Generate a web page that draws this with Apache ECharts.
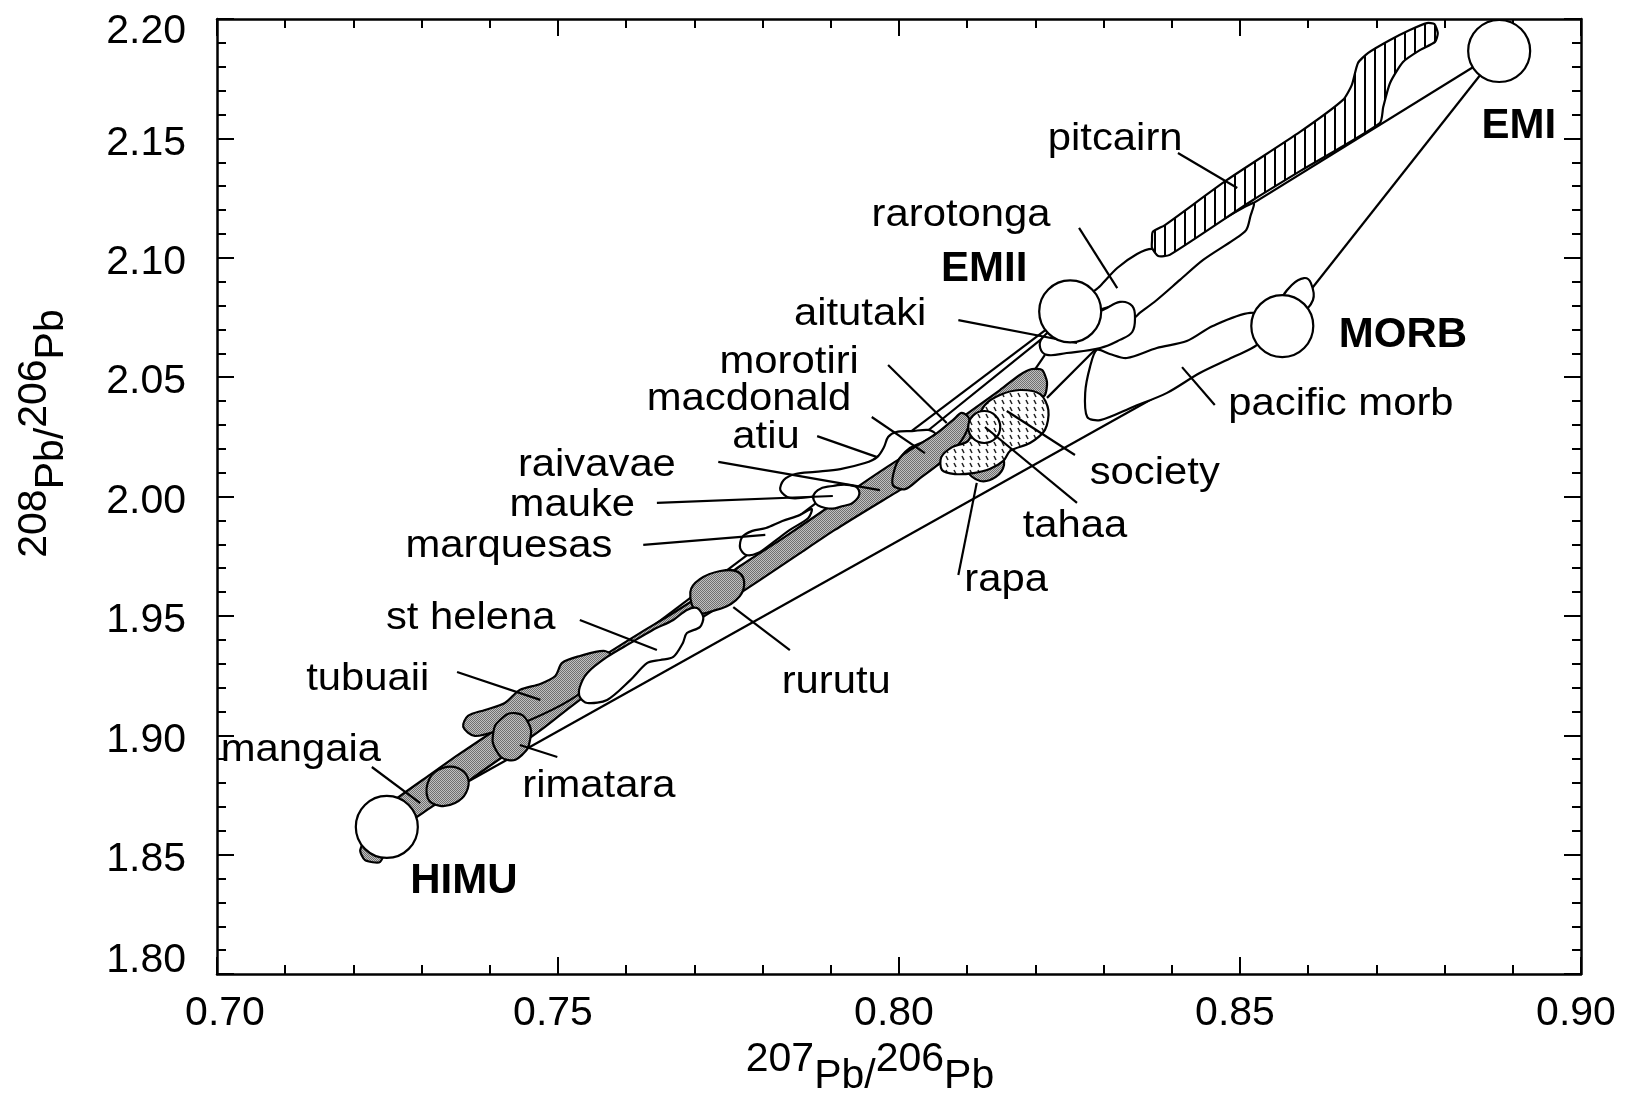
<!DOCTYPE html>
<html><head><meta charset="utf-8">
<script src="https://cdn.jsdelivr.net/npm/echarts@6/dist/echarts.min.js"></script>
<style>html,body{margin:0;padding:0;background:#fff}#c{width:1644px;height:1094px}</style>
</head><body><div id="c"></div>
<script>
// ---------- data (207Pb/206Pb , 208Pb/206Pb) ----------
const endmemberNames = ['HIMU', 'EMII', 'MORB', 'EMI'];
const endmemberPts = [[0.7249, 1.8616], [0.8251, 2.0775], [0.8562, 2.0714], [0.8880, 2.1866]];

// straight envelope / outline segments [x1, y1, x2, y2]
const envelopeLines = [
  [0.7249, 1.8616, 0.8562, 2.0714],   // HIMU - MORB
  [0.7249, 1.8616, 0.8251, 2.0775],   // HIMU - EMII
  [0.8880, 2.1866, 0.8562, 2.0714],   // EMI - MORB
  [0.8880, 2.1866, 0.8397, 2.1012],   // EMI - pitcairn
  [0.8038, 2.0266, 0.8211, 2.0664],
  [0.8290, 2.0622, 0.8217, 2.0413],
  [0.8214, 2.0593, 0.8199, 2.0530]
];

const bandPts = [[0.7261,1.8729],[0.7312,1.8834],[0.7349,1.8909],[0.7386,1.8980],[0.7430,1.9064],[0.7481,1.9160],[0.7532,1.9265],[0.7576,1.9349],[0.7620,1.9428],[0.7669,1.9512],[0.7716,1.9600],[0.7767,1.9709],[0.7826,1.9818],[0.7884,1.9931],[0.7943,2.0048],[0.7994,2.0145],[0.8046,2.0237],[0.8097,2.0341],[0.8148,2.0446],[0.8177,2.0509],[0.8195,2.0534],[0.8210,2.0530],[0.8217,2.0480],
  [0.8214,2.0425],[0.8192,2.0387],[0.8148,2.0308],[0.8104,2.0224],[0.8060,2.0140],[0.8009,2.0040],[0.7958,1.9952],[0.7906,1.9860],[0.7855,1.9763],[0.7796,1.9650],[0.7738,1.9541],[0.7694,1.9462],[0.7650,1.9378],[0.7606,1.9294],[0.7562,1.9210],[0.7518,1.9118],[0.7481,1.9035],[0.7444,1.8959],[0.7408,1.8888],[0.7371,1.8813],[0.7342,1.8750],[0.7312,1.8695],[0.7283,1.8637],[0.7261,1.8595],[0.7239,1.8469],[0.7217,1.8477],[0.7210,1.8519],[0.7232,1.8645]];
const mangaiaPts = [[0.7312,1.8821],[0.7331,1.8863],[0.7353,1.8863],[0.7368,1.8821],[0.7365,1.8758],[0.7349,1.8716],[0.7327,1.8704],[0.7309,1.8737]];
const tubuaiiPts = [[0.7361,1.9035],[0.7368,1.9081],[0.7393,1.9106],[0.7422,1.9135],[0.7444,1.9190],[0.7474,1.9215],[0.7496,1.9248],[0.7506,1.9303],[0.7532,1.9332],[0.7569,1.9353],[0.7584,1.9315],[0.7562,1.9244],[0.7518,1.9148],[0.7459,1.9064],[0.7415,1.9022],[0.7378,1.8997]];
const rimataraPts = [[0.7415,1.9064],[0.7437,1.9093],[0.7456,1.9055],[0.7459,1.8980],[0.7447,1.8917],[0.7427,1.8896],[0.7409,1.8938],[0.7405,1.9009]];
const rurutuPts = [[0.7694,1.9600],[0.7708,1.9654],[0.7738,1.9688],[0.7764,1.9684],[0.7773,1.9629],[0.7761,1.9566],[0.7732,1.9525],[0.7704,1.9516]];
const macdonaldPts = [[0.7991,2.0048],[0.7994,2.0119],[0.8004,2.0170],[0.8026,2.0212],[0.8054,2.0262],[0.8079,2.0320],[0.8092,2.0350],[0.8103,2.0325],[0.8098,2.0266],[0.8082,2.0199],[0.8060,2.0140],[0.8031,2.0077],[0.8009,2.0031]];
const rapaPts = [[0.8101,2.0111],[0.8123,2.0153],[0.8148,2.0170],[0.8154,2.0132],[0.8142,2.0082],[0.8119,2.0065]];
const societyPts = [[0.8063,2.0111],[0.8062,2.0165],[0.8078,2.0207],[0.8101,2.0232],[0.8111,2.0299],[0.8126,2.0383],[0.8148,2.0425],[0.8177,2.0446],[0.8207,2.0429],[0.8219,2.0362],[0.8214,2.0279],[0.8192,2.0224],[0.8163,2.0191],[0.8153,2.0149],[0.8133,2.0115],[0.8109,2.0098],[0.8082,2.0094]];
const tahaaCenter = [[0.8125, 2.0291]];
const stHelenaPts = [[0.7532,1.9160],[0.7543,1.9135],[0.7572,1.9148],[0.7606,1.9231],[0.7631,1.9303],[0.7650,1.9315],[0.7669,1.9328],[0.7683,1.9386],[0.7689,1.9428],[0.7708,1.9453],[0.7713,1.9495],[0.7704,1.9533],[0.7689,1.9525],[0.7669,1.9483],[0.7639,1.9441],[0.7606,1.9386],[0.7572,1.9328],[0.7543,1.9261],[0.7532,1.9202]];
const marquesasPts = [[0.7767,1.9784],[0.7770,1.9830],[0.7785,1.9856],[0.7805,1.9868],[0.7829,1.9897],[0.7855,1.9923],[0.7872,1.9948],[0.7867,1.9910],[0.7840,1.9860],[0.7814,1.9805],[0.7793,1.9763],[0.7776,1.9755]];
const atiuPts = [[0.7826,2.0027],[0.7831,2.0069],[0.7848,2.0094],[0.7877,2.0103],[0.7914,2.0115],[0.7950,2.0140],[0.7968,2.0165],[0.7978,2.0207],[0.7984,2.0249],[0.7996,2.0270],[0.8019,2.0274],[0.8043,2.0279],[0.8053,2.0262],[0.8038,2.0232],[0.8016,2.0203],[0.8001,2.0161],[0.7991,2.0111],[0.7972,2.0069],[0.7943,2.0040],[0.7906,2.0019],[0.7870,1.9998],[0.7840,1.9994]];
const maukePts = [[0.7875,1.9985],[0.7881,2.0027],[0.7903,2.0044],[0.7928,2.0048],[0.7941,2.0027],[0.7937,1.9985],[0.7918,1.9960],[0.7892,1.9952]];
const rarotongaPts = [[0.8273,2.0823],[0.8295,2.0882],[0.8320,2.0957],[0.8349,2.1016],[0.8371,2.1037],[0.8387,2.1016],[0.8519,2.1229],[0.8515,2.1171],[0.8509,2.1116],[0.8490,2.1074],[0.8446,2.0991],[0.8412,2.0907],[0.8378,2.0823],[0.8353,2.0769],[0.8343,2.0748],[0.8324,2.0802],[0.8287,2.0781]];
const pitcairnPts = [[0.8371,2.1074],[0.8372,2.1108],[0.8390,2.1137],[0.8481,2.1326],[0.8588,2.1527],[0.8651,2.1661],[0.8664,2.1724],[0.8673,2.1816],[0.8688,2.1858],[0.8720,2.1912],[0.8749,2.1954],[0.8774,2.1983],[0.8785,2.1979],[0.8790,2.1941],[0.8786,2.1904],[0.8764,2.1870],[0.8739,2.1820],[0.8720,2.1732],[0.8710,2.1631],[0.8705,2.1564],[0.8588,2.1363],[0.8519,2.1242],[0.8397,2.1012],[0.8380,2.1007],[0.8371,2.1041]];
const pacificMorbPts = [[0.8290,2.0614],[0.8309,2.0597],[0.8334,2.0580],[0.8378,2.0622],[0.8422,2.0651],[0.8460,2.0714],[0.8515,2.0769],[0.8559,2.0739],[0.8525,2.0635],[0.8490,2.0584],[0.8441,2.0517],[0.8393,2.0434],[0.8343,2.0375],[0.8295,2.0320],[0.8276,2.0333],[0.8273,2.0434],[0.8280,2.0542]];
const aitutakiPts = [[0.8210,2.0664],[0.8236,2.0718],[0.8299,2.0781],[0.8324,2.0815],[0.8342,2.0798],[0.8346,2.0748],[0.8342,2.0689],[0.8324,2.0656],[0.8295,2.0622],[0.8246,2.0601],[0.8217,2.0593],[0.8207,2.0622]];
const morbBumpPts = [[0.8563,2.0823],[0.8576,2.0886],[0.8594,2.0915],[0.8604,2.0894],[0.8607,2.0823],[0.8588,2.0773]];

// label leader lines [x1, y1, x2, y2]
const leaderLines = [
  [0.8409,2.1439,0.8496,2.1292],  // pitcairn
  [0.8264,2.1125,0.8320,2.0873],  // rarotonga
  [0.8087,2.0739,0.8261,2.0643],  // aitutaki
  [0.7984,2.0551,0.8070,2.0308],  // morotiri
  [0.7960,2.0333,0.8038,2.0182],  // macdonald
  [0.7880,2.0253,0.7968,2.0165],  // atiu
  [0.7735,2.0145,0.7972,2.0027],  // raivavae
  [0.7645,1.9973,0.7903,2.0002],  // mauke
  [0.7625,1.9797,0.7804,1.9839],  // marquesas
  [0.7532,1.9483,0.7645,1.9357],  // st helena
  [0.7352,1.9265,0.7474,1.9148],  // tubuaii
  [0.7499,1.8909,0.7444,1.8959],  // rimatara
  [0.7227,1.8867,0.7298,1.8716],  // mangaia
  [0.7840,1.9357,0.7757,1.9537],  // rurutu
  [0.8087,1.9671,0.8114,2.0057],  // rapa
  [0.8261,1.9973,0.8126,2.0291],  // tahaa
  [0.8258,2.0174,0.8158,2.0358],  // society
  [0.8415,2.0542,0.8463,2.0383]   // pacific morb
];

const labelText = ['pitcairn','rarotonga','EMII','aitutaki','morotiri','macdonald','atiu','raivavae','mauke','marquesas','st helena','tubuaii','mangaia','HIMU','rimatara','rurutu','rapa','tahaa','society','pacific morb','MORB','EMI'];
const labelPos = [[0.8317,2.1514],[0.8091,2.1192],[0.8125,2.0961],[0.7943,2.0781],[0.7839,2.0580],[0.7780,2.0425],[0.7805,2.0262],[0.7557,2.0145],[0.7521,1.9977],[0.7428,1.9809],[0.7372,1.9504],[0.7221,1.9252],[0.7123,1.8951],[0.7362,1.8398],[0.7560,1.8804],[0.7908,1.9236],[0.8157,1.9663],[0.8258,1.9893],[0.8375,2.0115],[0.8648,2.0404],[0.8739,2.0681],[0.8909,2.1560]];
const boldLabels = ['EMII','HIMU','MORB','EMI'];

// ---------- fills ----------
function makePattern(w, h, draw) {
  const c = document.createElement('canvas'); c.width = w; c.height = h;
  draw(c.getContext('2d')); return { image: c, repeat: 'repeat' };
}
const greyFill = makePattern(2, 2, g => { g.fillStyle = '#c0c0c0'; g.fillRect(0,0,2,2); g.fillStyle = '#707070'; g.fillRect(0,0,1,1); g.fillRect(1,1,1,1); });
const hatchFill = makePattern(10, 10, g => { g.fillStyle = '#fff'; g.fillRect(0,0,10,10); g.fillStyle = '#000'; g.fillRect(4,0,2,10); });
const dotFill = makePattern(8, 7, g => { g.fillStyle = '#fff'; g.fillRect(0,0,8,7); g.strokeStyle = '#222'; g.lineWidth = 1.5; g.beginPath(); g.moveTo(2,1); g.lineTo(4,5); g.stroke(); });

const FONT = "'Liberation Sans', Arial, Helvetica, sans-serif";

function polySeries(pts, fill, z, smooth) {
  return {
    type: 'custom', coordinateSystem: 'cartesian2d', data: pts, encode: { x: 0, y: 1 },
    z: z, silent: true, clip: false, animation: false,
    renderItem: function (params, api) {
      if (params.dataIndex !== 0) return null;
      const points = pts.map(p => api.coord(p));
      return { type: 'polygon', shape: { points: points, smooth: smooth }, style: { fill: fill, stroke: '#000', lineWidth: 2.2, lineJoin: 'round' } };
    }
  };
}
function segSeries(segs, z) {
  return {
    type: 'custom', coordinateSystem: 'cartesian2d', data: segs, encode: { x: [0, 2], y: [1, 3] },
    z: z, silent: true, clip: false, animation: false,
    renderItem: function (params, api) {
      const a = api.coord([api.value(0), api.value(1)]);
      const b = api.coord([api.value(2), api.value(3)]);
      return { type: 'line', shape: { x1: a[0], y1: a[1], x2: b[0], y2: b[1] }, style: { stroke: '#000', lineWidth: 2.2 } };
    }
  };
}

const series = [
  segSeries(envelopeLines, 1),
  polySeries(rarotongaPts, '#fff', 2, 0.3),
  polySeries(pacificMorbPts, '#fff', 2, 0.3),
  polySeries(aitutakiPts, '#fff', 2, 0.4),
  polySeries(morbBumpPts, '#fff', 2, 0.4),
  polySeries(pitcairnPts, hatchFill, 3, 0.2),
  polySeries(atiuPts, '#fff', 3, 0.3),
  polySeries(marquesasPts, '#fff', 3, 0.3),
  polySeries(bandPts, greyFill, 4, 0.2),
  polySeries(mangaiaPts, greyFill, 5, 0.4),
  polySeries(tubuaiiPts, greyFill, 5, 0.3),
  polySeries(rimataraPts, greyFill, 6, 0.5),
  polySeries(rurutuPts, greyFill, 5, 0.4),
  polySeries(macdonaldPts, greyFill, 5, 0.3),
  polySeries(maukePts, '#fff', 6, 0.5),
  polySeries(stHelenaPts, '#fff', 6, 0.3),
  polySeries(rapaPts, greyFill, 6, 0.4),
  polySeries(societyPts, dotFill, 7, 0.3),
  {
    type: 'custom', coordinateSystem: 'cartesian2d', data: tahaaCenter, z: 8, silent: true, clip: false, animation: false,
    renderItem: function (params, api) {
      const c = api.coord([api.value(0), api.value(1)]);
      return { type: 'circle', shape: { cx: c[0], cy: c[1], r: 16 }, style: { fill: dotFill, stroke: '#000', lineWidth: 2.2 } };
    }
  },
  segSeries(leaderLines, 9),
  {
    type: 'scatter', data: endmemberPts, symbol: 'circle', symbolSize: 62, z: 10, silent: true, animation: false,
    itemStyle: { color: '#fff', borderColor: '#000', borderWidth: 2.2, opacity: 1 }
  },
  {
    type: 'custom', coordinateSystem: 'cartesian2d', data: labelPos, z: 11, silent: true, clip: false, animation: false,
    renderItem: function (params, api) {
      const i = params.dataIndex;
      const p = api.coord([api.value(0), api.value(1)]);
      const t = labelText[i];
      const bold = boldLabels.indexOf(t) >= 0;
      return {
        type: 'text', x: p[0], y: p[1], scaleX: bold ? 1 : 1.1,
        style: { text: t, x: 0, y: bold ? 2 : 4, fill: '#000', fontSize: bold ? 42 : 38, fontWeight: bold ? 'bold' : 'normal', fontFamily: FONT, align: 'center', verticalAlign: 'middle' }
      };
    }
  }
];

const axisLineStyle = { color: '#000', width: 2.5 };
const tickStyle = { color: '#000', width: 2 };
const nameRich = {
  n: { fontSize: 41, fontFamily: FONT, color: '#000', verticalAlign: 'top' },
  p: { fontSize: 41, fontFamily: FONT, color: '#000', verticalAlign: 'bottom', lineHeight: 58 }
};
const tickRich = {
  m: { fontSize: 41, fontFamily: FONT, color: '#000', padding: [10, 0, 0, 0] },
  t: { fontSize: 41, fontFamily: FONT, color: '#000', padding: [26, 0, 0, 0] },
  b: { fontSize: 41, fontFamily: FONT, color: '#000', padding: [0, 0, 26, 0] }
};
const xTickRich = {
  f: { fontSize: 41, fontFamily: FONT, color: '#000', padding: [0, 0, 0, 16] },
  o: { fontSize: 41, fontFamily: FONT, color: '#000', padding: [0, 10, 0, 0] }
};

const option = {
  backgroundColor: '#fff',
  animation: false,
  grid: { left: 217, top: 19, width: 1364, height: 955, containLabel: false, outerBoundsMode: 'none' },
  xAxis: [
    {
      type: 'value', position: 'bottom', min: 0.70, max: 0.90, interval: 0.05,
      axisLine: { show: true, onZero: false, lineStyle: axisLineStyle },
      axisTick: { show: true, inside: true, length: 17, lineStyle: tickStyle },
      minorTick: { show: true, splitNumber: 5, length: 9, lineStyle: tickStyle },
      splitLine: { show: false },
      axisLabel: {
        margin: 19, color: '#000', fontSize: 41, fontFamily: FONT,
        formatter: v => Math.abs(v - 0.70) < 1e-9 ? '{f|0.70}' : '{o|' + v.toFixed(2) + '}',
        rich: xTickRich
      },
      name: '{n|207}{p|Pb/}{n|206}{p|Pb}', nameLocation: 'middle', nameGap: 54,
      nameTextStyle: { fontSize: 41, fontFamily: FONT, color: '#000', rich: nameRich, padding: [0, 58, 0, 0] }
    },
    {
      type: 'value', position: 'top', min: 0.70, max: 0.90, interval: 0.05,
      axisLine: { show: true, onZero: false, lineStyle: axisLineStyle },
      axisTick: { show: true, inside: true, length: 17, lineStyle: tickStyle },
      minorTick: { show: true, splitNumber: 5, length: 9, lineStyle: tickStyle },
      splitLine: { show: false }, axisLabel: { show: false }
    }
  ],
  yAxis: [
    {
      type: 'value', position: 'left', min: 1.80, max: 2.20, interval: 0.05,
      axisLine: { show: true, onZero: false, lineStyle: axisLineStyle },
      axisTick: { show: true, inside: true, length: 17, lineStyle: tickStyle },
      minorTick: { show: true, splitNumber: 5, length: 9, lineStyle: tickStyle },
      splitLine: { show: false },
      axisLabel: {
        margin: 31, color: '#000', fontSize: 41, fontFamily: FONT,
        formatter: v => {
          const s = v.toFixed(2);
          const k = Math.abs(v - 2.20) < 1e-9 ? 't' : (Math.abs(v - 1.80) < 1e-9 ? 'b' : 'm');
          return '{' + k + '|' + s + '}';
        },
        rich: tickRich
      },
      name: '{n|208}{p|Pb/}{n|206}{p|Pb}', nameLocation: 'middle', nameGap: 145,
      nameTextStyle: { fontSize: 41, fontFamily: FONT, color: '#000', rich: nameRich, padding: [0, 0, 0, 126] }
    },
    {
      type: 'value', position: 'right', min: 1.80, max: 2.20, interval: 0.05,
      axisLine: { show: true, onZero: false, lineStyle: axisLineStyle },
      axisTick: { show: true, inside: true, length: 17, lineStyle: tickStyle },
      minorTick: { show: true, splitNumber: 5, length: 9, lineStyle: tickStyle },
      splitLine: { show: false }, axisLabel: { show: false }
    }
  ],
  series: series
};

const chart = echarts.init(document.getElementById('c'), null, { renderer: 'canvas' });
chart.setOption(option);
</script>
</body></html>
